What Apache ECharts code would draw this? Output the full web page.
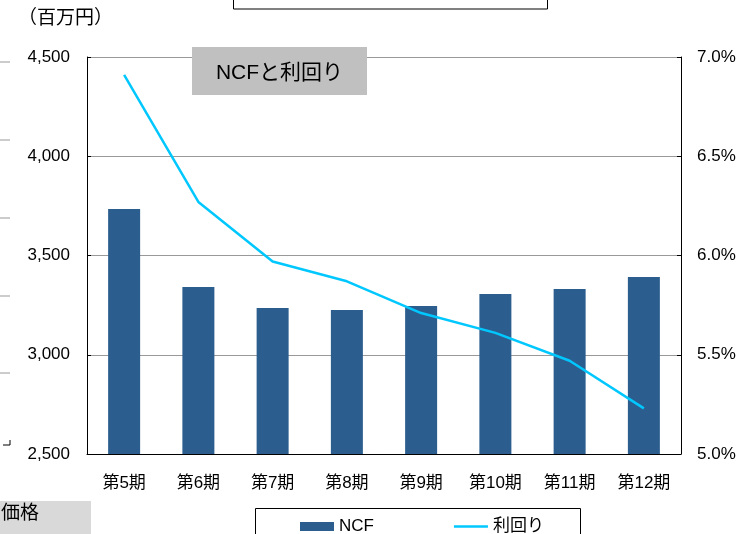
<!DOCTYPE html>
<html><head><meta charset="utf-8">
<script src="https://cdn.jsdelivr.net/npm/echarts@6/dist/echarts.min.js"></script>
<style>html,body{margin:0;padding:0;background:#fff}#c{width:755px;height:534px}</style>
</head><body><div id="c"></div>
<script>
var categories = ['第5期','第6期','第7期','第8期','第9期','第10期','第11期','第12期'];
var ncf = [3734, 3341, 3235, 3225, 3246, 3306, 3331, 3392];
var yieldPct = [6.91, 6.27, 5.97, 5.87, 5.71, 5.61, 5.47, 5.23];
var leftTicks = {min: 2500, max: 4500, interval: 500};
var rightTicks = {min: 5.0, max: 7.0, interval: 0.5};
var FONT = '"Liberation Sans", Arial, "Noto Sans CJK JP", sans-serif';

var chart = echarts.init(document.getElementById('c'));
var leftDeco = [62, 140, 218, 296, 373].map(function(y){
  return {type:'line', shape:{x1:0,y1:y,x2:10,y2:y}, style:{stroke:'#999',lineWidth:1}};
});
chart.setOption({
  animation: false,
  textStyle: {fontFamily: FONT},
  grid: {left: 87, right: 74, top: 57, bottom: 80},
  legend: {
    left: 295, top: 513, itemWidth: 34, itemHeight: 9, itemGap: 80,
    textStyle: {fontSize: 17, color: '#000', fontFamily: FONT},
    data: [
      {name:'NCF', icon:'rect'},
      {name:'利回り', icon:'path://M0,0 L40,0 L40,3 L0,3 Z', itemStyle:{color:'#00c8ff', borderWidth:0}}
    ]
  },
  xAxis: {
    type: 'category', data: categories, boundaryGap: true,
    axisLine: {lineStyle: {color: '#000', width: 1}},
    axisTick: {inside: true, length: 5, lineStyle: {color: '#000'}},
    axisLabel: {fontSize: 17, color: '#000', margin: 21, fontFamily: FONT}
  },
  yAxis: [{
    type: 'value', min: leftTicks.min, max: leftTicks.max, interval: leftTicks.interval,
    axisLine: {show: true, lineStyle: {color: '#000'}},
    axisTick: {show: true, inside: true, length: 4, lineStyle: {color: '#000'}},
    splitLine: {show: true, lineStyle: {color: '#999', width: 1}},
    axisLabel: {fontSize: 17, color: '#000', margin: 17, fontFamily: FONT,
      formatter: function(v){ return v.toLocaleString('en-US'); }}
  }, {
    type: 'value', min: rightTicks.min, max: rightTicks.max, interval: rightTicks.interval,
    axisLine: {show: true, lineStyle: {color: '#000'}},
    axisTick: {show: true, inside: true, length: 4, lineStyle: {color: '#000'}},
    splitLine: {show: false},
    axisLabel: {fontSize: 17, color: '#000', margin: 16, fontFamily: FONT,
      formatter: function(v){ return v.toFixed(1) + '%'; }}
  }],
  series: [{
    name: 'NCF', type: 'bar', data: ncf, barWidth: 32,
    itemStyle: {color: '#2b5e8f'}
  }, {
    name: '利回り', type: 'line', yAxisIndex: 1, data: yieldPct,
    symbol: 'none', lineStyle: {color: '#00c8ff', width: 2.5},
    itemStyle: {color: '#00c8ff'}
  }],
  graphic: [
    {type:'rect', shape:{x:192,y:47,width:175,height:48}, style:{fill:'#c0c0c0'}, z:10},
    {type:'text', x:279.5, y:73, z:11, style:{text:'NCFと利回り', fill:'#000', font:'21px ' + FONT, align:'center', verticalAlign:'middle'}},
    {type:'text', x:18, y:19, style:{text:'（百万円）', fill:'#000', font:'19px ' + FONT, verticalAlign:'middle'}},
    {type:'rect', shape:{x:0,y:501,width:91,height:40}, style:{fill:'#d9d9d9'}},
    {type:'text', x:1, y:514, style:{text:'価格', fill:'#000', font:'19px ' + FONT, verticalAlign:'middle'}},
    {type:'rect', shape:{x:255.5,y:508.5,width:325,height:40}, style:{fill:'none', stroke:'#000', lineWidth:1}},
    {type:'rect', shape:{x:233.5,y:-30,width:314,height:39}, style:{fill:'none', stroke:'#000', lineWidth:1}},
    {type:'text', x:315, y:-7, style:{text:'NCF', fill:'#000', font:'17px ' + FONT, verticalAlign:'middle'}},
    {type:'text', x:468, y:-7, style:{text:'利回り', fill:'#000', font:'17px ' + FONT, verticalAlign:'middle'}},
    {type:'line', shape:{x1:10,y1:440,x2:10,y2:445}, style:{stroke:'#000',lineWidth:1}},
    {type:'line', shape:{x1:3,y1:445,x2:10,y2:445}, style:{stroke:'#000',lineWidth:1}}
  ].concat(leftDeco)
});
</script></body></html>
